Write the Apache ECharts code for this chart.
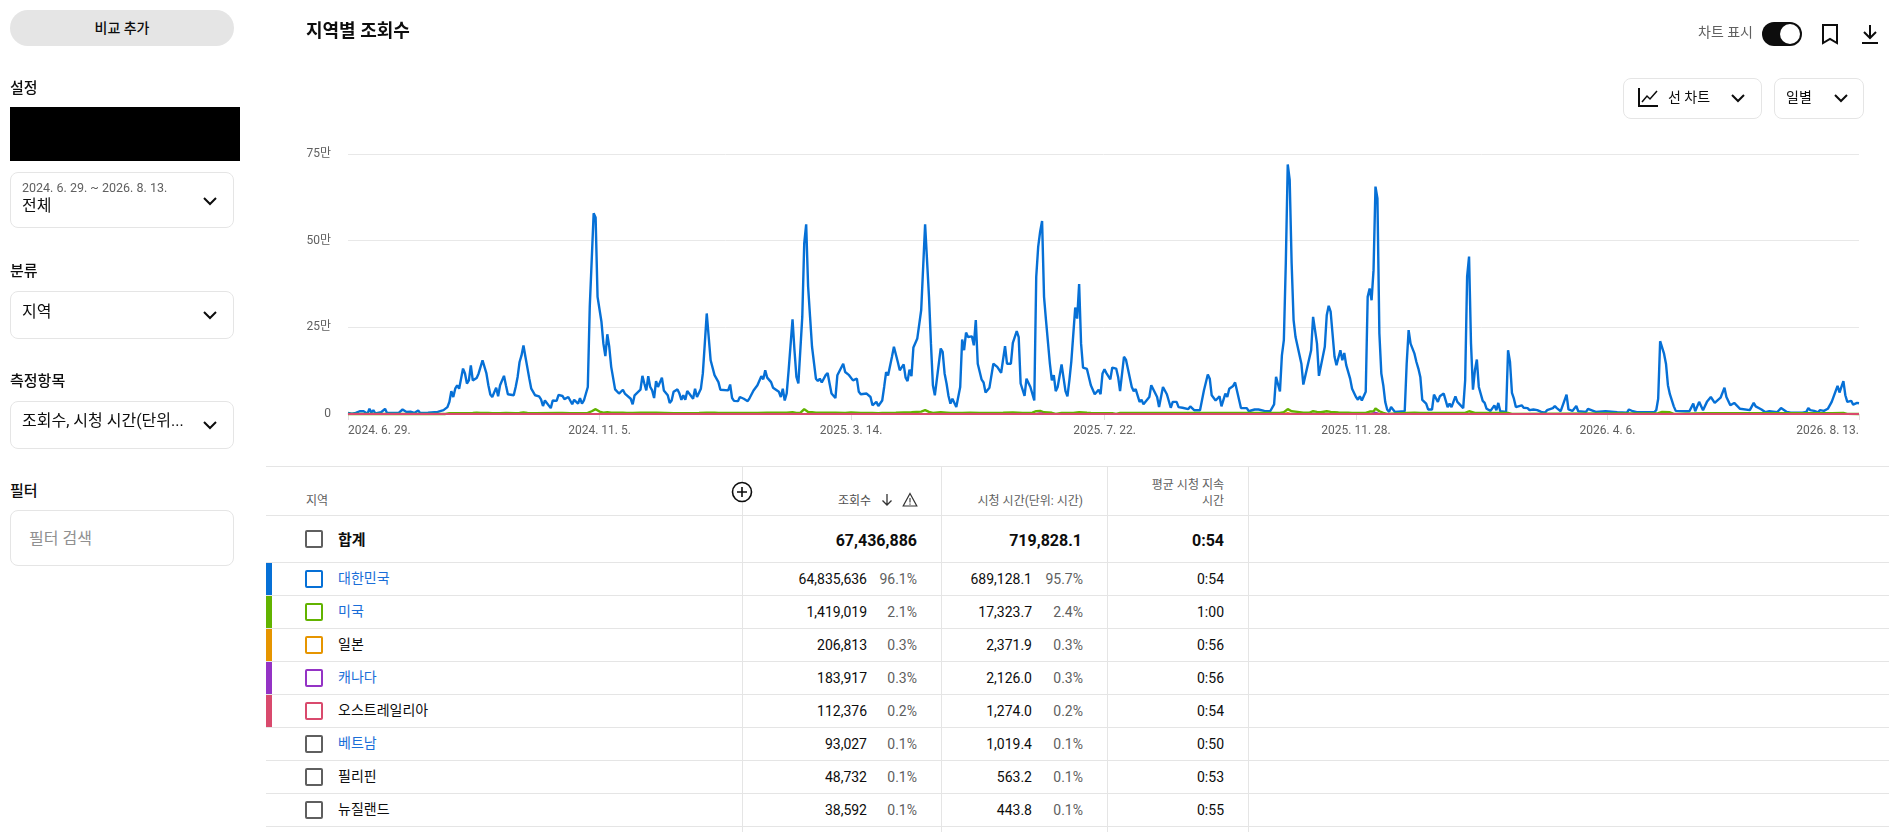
<!DOCTYPE html>
<html lang="ko"><head><meta charset="utf-8"><title>지역별 조회수</title>
<script src="https://cdn.jsdelivr.net/npm/echarts@6/dist/echarts.min.js"></script>
<style>
html,body{margin:0;padding:0;width:1897px;height:832px;overflow:hidden;background:#fff;font-family:Roboto,"Noto Sans CJK KR",sans-serif;color:#0d0d0d}
.a{position:absolute;white-space:nowrap}
.box{position:absolute;left:10px;width:222px;border:1px solid #e5e5e5;border-radius:8px;box-sizing:content-box}
.h{position:absolute;left:10px;font-size:15px;font-weight:500;line-height:20px}
.ln{position:absolute;background:#e5e5e5}
.r{text-align:right}
#chart{position:absolute;left:0;top:0;width:1897px;height:460px}
</style></head><body>
<div id="chart"></div>
<div id="ui"></div>
<script>
// ---- chart data (views in units of 만 = 10,000; day = days since 2024. 6. 29.) ----
const koreaDays=[0,1,2,3,4,5,6,7,8,10,11,12,13,14,15,17,19,20,26,28,30,32,34,36,37,41,46,47,49,51,52,53,54,55,56,57,58,59,60,61,62,63,64,66,67,69,71,72,73,74,76,77,78,80,81,82,85,86,87,88,89,90,91,93,94,95,96,98,99,100,101,102,104,105,107,108,110,111,113,115,116,117,118,119,120,121,123,124,125,126,127,128,130,131,132,133,134,135,137,139,141,142,143,145,146,147,148,150,151,152,153,154,155,156,157,158,159,161,162,164,165,166,167,169,170,171,172,173,174,175,177,178,179,181,182,183,184,185,186,188,189,190,191,195,196,197,198,200,201,203,205,206,207,208,210,212,213,214,215,216,217,218,219,221,222,223,224,225,226,228,229,230,231,233,234,235,236,237,238,240,241,
242,243,245,246,247,248,250,251,254,255,257,259,261,262,263,266,268,269,271,272,274,275,276,277,279,280,281,282,283,285,286,287,288,289,290,292,293,294,296,298,299,300,301,302,304,305,306,307,308,309,310,312,313,314,315,316,317,318,320,321,322,323,325,326,327,329,330,331,333,334,335,336,337,338,340,341,342,343,344,345,347,348,350,351,352,353,354,355,356,357,358,360,361,362,363,364,366,367,368,369,370,371,372,373,374,375,376,377,379,381,382,383,385,386,387,388,389,390,391,392,394,395,396,398,399,402,403,404,406,407,408,409,411,412,413,415,416,418,420,421,422,423,425,426,428,429,431,432,434,437,439,440,441,442,443,445,446,447,448,450,451,452,454,455,458,461,462,465,466,467,468,470,473,475,476,478,479,480,481,482,483,484,485,486,487,489,490,491,492,494,495,496,497,498,499,501,502,503,504,506,507,509,510,511,512,514,515,517,518,519,520,521,522,523,524,525,526,527,528,
529,530,531,532,533,534,535,537,538,542,543,544,545,547,548,549,550,551,552,553,554,556,557,559,560,561,562,564,565,566,568,569,572,573,574,575,576,577,578,579,580,582,583,584,586,587,588,589,590,591,592,594,595,596,597,598,599,600,602,603,605,606,607,608,610,612,614,615,616,618,619,620,622,623,625,626,627,628,629,630,631,635,636,637,640,645,646,651,652,656,657,659,661,670,671,672,673,675,676,677,678,679,680,681,686,687,688,689,690,691,693,695,697,698,699,700,701,702,704,705,706,707,708,709,711,712,714,715,719,721,722,723,725,726,727,728,729,730,733,735,736,738,740,746,748,749,750,752,754,755,757,759,761,762,764,765,767,768,769,770,771,772,773,774,775];
const koreaViews=[0.3,0.8,0.1,0.5,0.3,0.6,0.8,0.4,0.8,0.1,1.5,0.4,1.1,0.2,0.7,0.5,1.5,0.3,0.3,1.3,0.6,0.7,0.3,1.0,0.3,0.4,0.6,1.1,1.1,2.0,3.5,6.6,4.9,7.3,8.3,7.3,10.2,13.1,11.7,8.8,9.7,14.0,9.7,10.4,11.7,15.5,11.7,8.3,5.6,4.9,7.6,5.1,8.3,11.0,8.3,5.7,5.4,7.8,10.7,15.0,16.9,19.8,16.5,10.2,7.3,7.5,5.4,5.1,4.2,2.3,3.9,4.3,1.7,3.9,3.8,5.5,5.2,4.3,4.9,2.8,4.1,4.6,3.0,4.6,3.0,3.9,7.8,30.9,44.4,57.9,56.7,33.8,26.6,20.3,16.7,23.0,19.4,13.6,7.1,5.9,7.0,5.9,5.6,4.4,2.8,5.4,5.6,7.0,11.0,8.8,6.8,10.9,7.8,6.8,4.6,9.5,7.8,10.5,6.8,5.4,3.2,3.9,6.4,7.1,5.9,4.1,5.4,4.1,6.6,5.9,4.4,7.3,4.9,7.3,11.7,20.3,29.0,29.0,15.5,11.2,11.0,9.2,7.0,6.8,8.5,4.6,3.8,3.7,4.9,4.4,3.7,4.6,4.6,6.8,8.3,10.9,10.0,12.6,10.5,10.5,9.2,7.6,8.0,6.4,4.9,7.3,3.9,5.9,12.6,27.3,18.4,10.7,8.8,28.0,49.2,54.7,36.7,28.0,19.4,10.2,9.5,
10.2,9.1,11.2,11.8,8.8,5.9,4.6,11.2,14.5,12.1,11.2,9.7,10.2,6.4,5.7,5.9,4.9,2.5,3.5,2.3,3.9,7.8,12.1,11.1,16.5,19.4,19.2,15.0,12.6,14.3,10.5,9.5,12.8,10.9,19.2,21.8,22.1,30.0,54.7,33.8,20.3,8.3,5.4,4.9,18.9,17.9,11.7,8.8,5.2,3.0,4.4,2.0,2.0,7.8,21.5,18.4,23.5,22.2,22.4,19.8,27.1,14.5,9.9,9.1,6.2,7.6,7.6,14.5,13.6,13.6,11.9,12.1,19.6,14.5,14.5,20.5,20.3,23.9,22.2,8.8,5.2,10.2,7.8,7.3,3.9,39.6,48.2,52.6,55.7,33.8,27.1,14.5,9.7,11.2,6.6,7.8,14.3,13.8,6.6,5.1,9.7,15.2,15.5,30.7,27.5,37.5,20.3,13.4,13.0,8.3,8.3,5.7,7.0,5.7,11.7,12.9,11.8,11.7,10.0,13.4,13.1,10.7,6.6,16.5,15.7,7.8,6.6,7.2,3.5,4.1,2.8,2.8,4.9,8.3,8.5,4.9,2.0,7.8,5.7,5.4,1.8,3.5,3.5,2.0,1.8,2.0,1.4,2.2,1.1,1.1,6.8,6.6,11.4,10.2,5.4,3.9,3.8,5.1,2.2,5.9,4.9,7.3,8.1,9.1,1.7,1.7,0.8,1.3,1.7,1.3,1.3,0.9,0.8,2.8,10.7,6.5,16.9,21.3,43.4,72.0,67.5,43.4,27.1,22.2,21.8,14.5,8.5,11.0,10.7,18.4,28.0,24.2,20.3,11.0,10.9,19.4,28.5,31.2,29.5,16.5,14.1,18.4,15.5,17.6,14.1,10.2,7.3,4.9,4.1,5.1,3.9,4.3,6.4,33.8,36.2,32.8,41.5,65.6,62.2,
23.2,11.7,8.3,3.5,1.3,0.6,2.0,0.6,0.8,0.8,14.5,24.2,20.3,17.4,15.0,13.1,10.7,4.1,3.9,3.0,1.3,1.3,5.6,3.5,5.1,4.6,5.9,2.0,3.0,2.0,5.1,3.5,1.7,9.7,39.6,45.4,20.3,7.0,12.6,15.7,7.8,3.8,3.2,1.5,0.9,0.9,2.5,1.1,3.2,0.8,0.4,0.6,18.4,15.0,6.1,4.4,2.0,1.5,2.5,1.8,1.7,1.1,1.1,1.3,1.1,0.6,0.4,1.1,0.6,1.7,2.3,1.7,0.8,1.3,5.6,1.3,1.5,0.9,1.1,2.3,0.8,0.6,1.5,1.5,0.6,0.8,0.5,0.5,0.8,0.4,1.3,0.8,0.5,0.5,1.1,4.4,21.0,17.4,14.5,8.3,5.7,5.7,2.2,0.9,0.8,0.5,0.8,0.5,3.0,0.8,3.5,1.1,3.5,3.3,4.9,4.9,3.2,3.0,4.7,4.9,7.6,4.9,4.4,2.5,3.2,2.8,1.5,1.0,1.1,3.2,2.2,2.2,1.3,1.5,0.5,0.3,0.8,0.4,0.5,1.7,1.5,0.6,0.4,0.4,0.6,1.7,1.1,0.9,0.5,1.1,0.9,1.5,3.5,3.7,8.1,6.2,9.5,5.4,3.5,3.0,3.8,2.7,2.6,3.2,3.1];
const usDays=[0,50,52,53,54,55,56,57,58,64,66,68,72,74,75,78,81,82,86,88,90,92,96,97,108,110,111,114,115,116,117,123,125,127,129,131,133,135,138,139,141,143,144,146,150,154,158,159,167,168,180,184,188,190,191,210,215,220,225,228,230,232,234,236,238,240,245,250,255,258,263,269,270,272,273,274,281,289,294,296,298,300,304,307,309,310,315,319,324,325,330,336,341,346,351,353,355,357,361,363,366,369,370,372,375,379,381,382,392,394,396,399,400,439,443,444,449,457,458,478,480,482,484,487,490,493,495,497,499,502,504,508,513,515,516,522,524,526,527,529,531,533,543,544,547,550,551,556,563,564,567,570,571,573,575,578,581,582,595,597,672,674,678,680,696,697,705,706,761,767,769,775];
const usViews=[0.02,0.02,0.25,0.05,0.25,0.05,0.25,0.05,0.25,0.3,0.35,0.3,0.28,0.25,0.05,0.25,0.3,0.05,0.2,0.3,0.45,0.3,0.25,0.05,0.3,0.3,0.05,0.25,0.05,0.25,0.05,0.3,0.8,1.4,0.7,0.4,0.5,0.35,0.35,0.05,0.35,0.3,0.05,0.3,0.4,0.4,0.4,0.05,0.2,0.05,0.3,0.4,0.35,0.3,0.05,0.3,0.35,0.35,0.35,0.5,0.3,0.3,1.4,0.6,0.5,0.4,0.35,0.4,0.3,0.45,0.3,0.3,0.05,0.25,0.05,0.3,0.35,0.5,0.7,1.1,0.6,0.3,0.55,0.4,0.3,0.05,0.3,0.35,0.3,0.05,0.3,0.35,0.45,0.3,0.4,0.8,0.9,0.5,0.35,0.05,0.3,0.3,0.05,0.3,0.5,0.35,0.3,0.05,0.25,0.05,0.3,0.3,0.05,0.3,0.3,0.05,0.3,0.3,0.05,0.3,0.5,1.4,0.8,0.6,0.4,0.35,0.8,0.6,0.5,0.8,0.6,0.45,0.35,0.3,0.05,0.3,0.7,0.7,1.6,0.8,0.3,0.05,0.3,0.5,0.35,0.3,0.05,0.3,0.3,0.05,0.3,0.3,0.05,0.3,0.8,0.3,0.3,0.05,0.3,0.05,0.25,0.6,0.5,0.05,0.25,0.05,0.25,0.05,0.25,0.3,0.05,0.02];
const japanDays=[0,480,482,484,525,527,529,775];
const japanViews=[0.02,0.02,0.3,0.02,0.02,0.25,0.02,0.02];
const canadaDays=[0,353,355,357,525,527,529,775];
const canadaViews=[0.02,0.02,0.2,0.02,0.02,0.35,0.02,0.02];
const australiaDays=[0,353,355,357,775];
const australiaViews=[0.03,0.03,0.15,0.03,0.03];

const xTickDays=[0,129,258,388,517,646,775];
const xTickLabels=['2024. 6. 29.','2024. 11. 5.','2025. 3. 14.','2025. 7. 22.','2025. 11. 28.','2026. 4. 6.','2026. 8. 13.'];
const yTickLabels={0:'0',25:'25만',50:'50만',75:'75만'};

// ---- table data ----
const regions=['대한민국','미국','일본','캐나다','오스트레일리아','베트남','필리핀','뉴질랜드'];
const regionLinked=[true,true,false,true,false,true,false,false];
const regionColors=['#0670d6','#62b300','#e69500','#9433c5','#d94a6d',null,null,null];
const lineWidths=[2.4,2.4,2,2,2];
const viewCounts=['64,835,636','1,419,019','206,813','183,917','112,376','93,027','48,732','38,592'];
const viewShares=['96.1%','2.1%','0.3%','0.3%','0.2%','0.1%','0.1%','0.1%'];
const watchHours=['689,128.1','17,323.7','2,371.9','2,126.0','1,274.0','1,019.4','563.2','443.8'];
const watchShares=['95.7%','2.4%','0.3%','0.3%','0.2%','0.1%','0.1%','0.1%'];
const avgDurations=['0:54','1:00','0:56','0:56','0:54','0:50','0:53','0:55'];
const totals={views:'67,436,886',hours:'719,828.1',avg:'0:54'};

// ---- chart ----
const zip=(d,v)=>d.map((x,i)=>[x,v[i]]);
const seriesDefs=[[koreaDays,koreaViews,0],[usDays,usViews,1],[japanDays,japanViews,2],[canadaDays,canadaViews,3],[australiaDays,australiaViews,4]];
const chart=echarts.init(document.getElementById('chart'),null,{renderer:'canvas'});
chart.setOption({
  animation:false,
  textStyle:{fontFamily:'Roboto,"Noto Sans CJK KR",sans-serif'},
  grid:{left:348,right:38,top:154,height:260,containLabel:false},
  xAxis:{type:'value',min:0,max:775,
    axisLine:{show:false},splitLine:{show:false},
    axisTick:{show:true,length:6,lineStyle:{color:'#e0e0e0'},customValues:xTickDays},
    axisLabel:{customValues:xTickDays,margin:11,color:'#606060',fontSize:12,alignMinLabel:'left',alignMaxLabel:'right',
      formatter:v=>xTickLabels[xTickDays.indexOf(v)]}},
  yAxis:{type:'value',min:0,max:75,interval:25,
    axisLine:{show:false},axisTick:{show:false},
    splitLine:{lineStyle:{color:'#e8e8e8',width:1}},
    axisLabel:{margin:17,color:'#606060',fontSize:12,padding:[5,0,0,0],formatter:v=>yTickLabels[v]}},
  series:seriesDefs.map(([d,v,i])=>({type:'line',name:regions[i],data:zip(d,v),symbol:'none',smooth:false,z:2+i,
    lineStyle:{color:regionColors[i],width:lineWidths[i]},clip:false}))
});

// ---- page furniture ----
const chev=(x,y)=>`<svg class="a" style="left:${x}px;top:${y}px" width="16" height="10" viewBox="0 0 16 10"><path d="M2 2l6 6 6-6" fill="none" stroke="#0d0d0d" stroke-width="2"/></svg>`;
let h='';
const tr=(rx,cy,s,st='',lh=16)=>`<div class="a r" style="right:${1897-rx}px;top:${cy-lh/2}px;line-height:${lh}px;${st}">${s}</div>`;
const tl=(x,cy,s,st='',lh=16)=>`<div class="a" style="left:${x}px;top:${cy-lh/2}px;line-height:${lh}px;${st}">${s}</div>`;
// sidebar
h+=`<div class="a" style="left:10px;top:10px;width:224px;height:36px;border-radius:18px;background:#e5e5e5;text-align:center;line-height:36px;font-size:14px;font-weight:500">비교 추가</div>`;
h+=`<div class="h" style="top:78px">설정</div><div class="a" style="left:10px;top:107px;width:230px;height:54px;background:#000"></div>`;
h+=`<div class="box" style="top:172px;height:54px"></div>`+tl(22,188,'2024. 6. 29. ~ 2026. 8. 13.','font-size:12.5px;color:#606060')+tl(22,206,'전체','font-size:16px')+chev(202,196);
h+=`<div class="h" style="top:261px">분류</div><div class="box" style="top:291px;height:46px"></div>`+tl(22,312,'지역','font-size:16px')+chev(202,310);
h+=`<div class="h" style="top:371px">측정항목</div><div class="box" style="top:401px;height:46px"></div>`+tl(22,421,'조회수, 시청 시간(단위...','font-size:16px')+chev(202,420);
h+=`<div class="h" style="top:481px">필터</div><div class="box" style="top:510px;height:54px"></div>`+tl(29,539,'필터 검색','font-size:16px;color:#909090');
// header
h+=tl(306,31,'지역별 조회수','font-size:18px;font-weight:700',22);
h+=tr(1753,32,'차트 표시','font-size:14px;color:#606060');
h+=`<div class="a" style="left:1762px;top:22px;width:40px;height:24px;border-radius:12px;background:#0d0d0d"></div><div class="a" style="left:1780px;top:24px;width:20px;height:20px;border-radius:10px;background:#fff"></div>`;
h+=`<svg class="a" style="left:1821px;top:23px" width="18" height="22" viewBox="0 0 18 22"><path d="M2 2h14v18l-7-4-7 4z" fill="none" stroke="#0d0d0d" stroke-width="2"/></svg>`;
h+=`<svg class="a" style="left:1861px;top:24px" width="18" height="20" viewBox="0 0 18 20"><path d="M9 1v13M3 8l6 6 6-6M1 19h16" fill="none" stroke="#0d0d0d" stroke-width="2"/></svg>`;
h+=`<div class="box" style="left:1623px;top:78px;width:137px;height:39px"></div><div class="box" style="left:1774px;top:78px;width:88px;height:39px"></div>`;
h+=`<svg class="a" style="left:1637px;top:87px" width="22" height="21" viewBox="0 0 22 21"><path d="M2 1v18h19" fill="none" stroke="#0d0d0d" stroke-width="2"/><path d="M5 15l5-6 3 3 7-8" fill="none" stroke="#0d0d0d" stroke-width="1.5"/></svg>`;
h+=tl(1668,97,'선 차트','font-size:14px',18)+chev(1730,93)+tl(1786,97,'일별','font-size:14px',18)+chev(1833,93);
// table lines
[466,515,562].concat(regions.map((_,i)=>595+33*i)).forEach(y=>{h+=`<div class="ln" style="left:266px;width:1623px;top:${y}px;height:1px"></div>`});
[742,941,1107,1248].forEach(x=>{h+=`<div class="ln" style="left:${x}px;width:1px;top:466px;height:366px"></div>`});
// table head
h+=tl(306,501,'지역','font-size:12px;color:#606060');
h+=tr(871,501,'조회수','font-size:12px;color:#4d4d4d');
h+=`<svg class="a" style="left:880px;top:493px" width="14" height="14" viewBox="0 0 14 14"><path d="M7 1v11M2.5 7.5L7 12l4.5-4.5" fill="none" stroke="#333" stroke-width="1.3"/></svg>`;
h+=`<svg class="a" style="left:902px;top:492px" width="16" height="15" viewBox="0 0 16 15"><path d="M8 1.5L14.8 14H1.2z" fill="none" stroke="#333" stroke-width="1.2"/><path d="M8 6v4.5M8 11.5v1.2" stroke="#333" stroke-width="1.1"/></svg>`;
h+=tr(1083,501,'시청 시간(단위: 시간)','font-size:12px;color:#606060');
h+=tr(1224,485,'평균 시청 지속','font-size:12px;color:#606060')+tr(1224,501,'시간','font-size:12px;color:#606060');
h+=`<svg class="a" style="left:731px;top:481px" width="22" height="22" viewBox="0 0 22 22"><circle cx="11" cy="11" r="9.5" fill="#fff" stroke="#0d0d0d" stroke-width="1.6"/><path d="M11 6v10M6 11h10" stroke="#0d0d0d" stroke-width="1.6"/></svg>`;
// total row
const box=(cy,c)=>`<div class="a" style="left:305px;top:${cy-9}px;width:14px;height:14px;border:2px solid ${c};border-radius:2px"></div>`;
h+=box(539,'#5f5f5f')+tl(338,540,'합계','font-size:15px;font-weight:700',20);
h+=tr(917,541,totals.views,'font-size:16px;font-weight:700',20)+tr(1082,541,totals.hours,'font-size:16px;font-weight:700',20)+tr(1224,541,totals.avg,'font-size:16px;font-weight:700',20);
// rows
regions.forEach((name,i)=>{
  const top=563+33*i, cy=top+16;
  if(regionColors[i]) h+=`<div class="a" style="left:266px;top:${top}px;width:6px;height:32px;background:${regionColors[i]}"></div>`;
  h+=box(cy,regionColors[i]||'#5f5f5f');
  h+=tl(338,cy-1,name,`font-size:14px;color:${regionLinked[i]?'#1a6ed8':'#0d0d0d'}`);
  h+=tr(867,cy,viewCounts[i],'font-size:14px')+tr(917,cy,viewShares[i],'font-size:14px;color:#606060');
  h+=tr(1032,cy,watchHours[i],'font-size:14px')+tr(1083,cy,watchShares[i],'font-size:14px;color:#606060');
  h+=tr(1224,cy,avgDurations[i],'font-size:14px');
});
document.getElementById('ui').innerHTML=h;
</script>
</body></html>
